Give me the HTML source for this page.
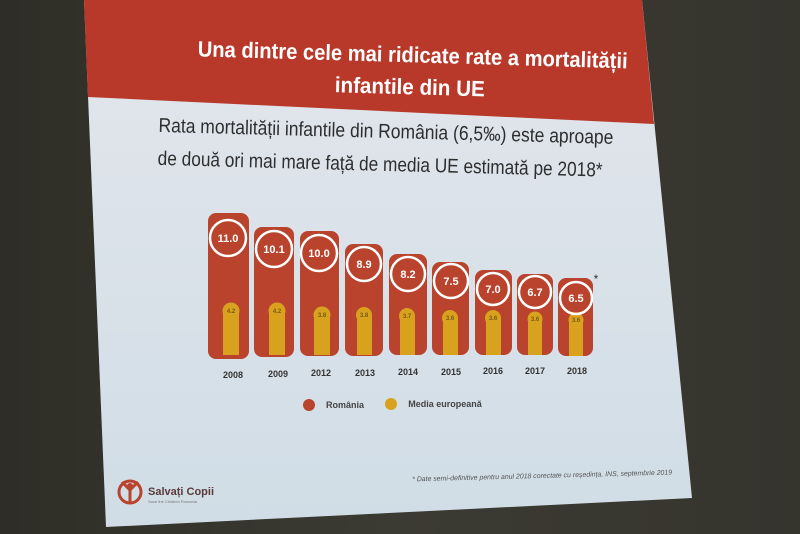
<!DOCTYPE html>
<html><head><meta charset="utf-8"><style>
html,body{margin:0;padding:0;width:800px;height:534px;overflow:hidden;background:#34342d}
svg{display:block}
text{font-family:"Liberation Sans",sans-serif}
</style></head><body>
<svg width="800" height="534" viewBox="0 0 800 534" xmlns="http://www.w3.org/2000/svg">
<defs>
<linearGradient id="bg" x1="0" y1="0" x2="1" y2="0">
<stop offset="0" stop-color="#2e2e27"/><stop offset="0.5" stop-color="#3c3b33"/><stop offset="1" stop-color="#35342d"/></linearGradient>
<linearGradient id="sl" x1="0" y1="0" x2="0" y2="1">
<stop offset="0" stop-color="#e4e6ec"/><stop offset="1" stop-color="#d0dde6"/></linearGradient>
</defs>
<rect width="800" height="534" fill="url(#bg)"/>
<polygon points="84,0 642,0 692,498 106,527" fill="url(#sl)"/>
<polygon points="84,0 642,0 654,124 88,97" fill="#b8382a"/>
<g transform="rotate(1.6 400 80)" fill="#fff" font-weight="bold" font-size="22" text-anchor="middle">
<text x="412" y="62" textLength="430" lengthAdjust="spacingAndGlyphs">Una dintre cele mai ridicate rate a mortalității</text>
<text x="410" y="94" textLength="150" lengthAdjust="spacingAndGlyphs">infantile din UE</text>
</g>
<g transform="rotate(1.5 390 150)" fill="#2e2e2e" font-size="20">
<text x="158" y="138" textLength="455" lengthAdjust="spacingAndGlyphs">Rata mortalității infantile din România (6,5‰) este aproape</text>
<text x="158" y="171" textLength="445" lengthAdjust="spacingAndGlyphs">de două ori mai mare față de media UE estimată pe 2018*</text>
</g>
<g font-weight="bold" text-anchor="middle">
<rect x="208" y="213" width="41" height="146" rx="8" fill="#b9432c"/>
<rect x="254" y="227" width="40" height="130" rx="8" fill="#b9432c"/>
<rect x="300" y="231" width="39" height="125" rx="8" fill="#b9432c"/>
<rect x="345" y="244" width="38" height="112" rx="8" fill="#b9432c"/>
<rect x="389" y="254" width="38" height="101" rx="8" fill="#b9432c"/>
<rect x="432" y="262" width="37" height="93" rx="8" fill="#b9432c"/>
<rect x="475" y="270" width="37" height="85" rx="8" fill="#b9432c"/>
<rect x="517" y="274" width="36" height="81" rx="8" fill="#b9432c"/>
<rect x="558" y="278" width="35" height="78" rx="8" fill="#b9432c"/>
<g fill="#d9a21e">
<rect x="223" y="311" width="16" height="44"/><circle cx="231" cy="311" r="8.5"/>
<rect x="269" y="311" width="16" height="44"/><circle cx="277" cy="311" r="8.5"/>
<rect x="314" y="315" width="16" height="40"/><circle cx="322" cy="315" r="8.5"/>
<rect x="357" y="315" width="15" height="40"/><circle cx="364" cy="315" r="8"/>
<rect x="400" y="316" width="15" height="39"/><circle cx="407" cy="316" r="8"/>
<rect x="443" y="318" width="15" height="37"/><circle cx="450" cy="318" r="8"/>
<rect x="486" y="318" width="15" height="37"/><circle cx="493" cy="318" r="8"/>
<rect x="528" y="319" width="14" height="36"/><circle cx="535" cy="319" r="7.5"/>
<rect x="569" y="320" width="14" height="36"/><circle cx="576" cy="320" r="7.5"/>
</g>
<g fill="none" stroke="#fff" stroke-width="2.5">
<circle cx="228" cy="238" r="18"/><circle cx="274" cy="249" r="18"/><circle cx="319" cy="253" r="18"/>
<circle cx="364" cy="264" r="17"/><circle cx="408" cy="274" r="17"/><circle cx="451" cy="281" r="17"/>
<circle cx="493" cy="289" r="16"/><circle cx="535" cy="292" r="16"/><circle cx="576" cy="298" r="16"/>
</g>
<g fill="#fff" font-size="11">
<text x="228" y="242">11.0</text><text x="274" y="253">10.1</text><text x="319" y="257">10.0</text>
<text x="364" y="268">8.9</text><text x="408" y="278">8.2</text><text x="451" y="285">7.5</text>
<text x="493" y="293">7.0</text><text x="535" y="296">6.7</text><text x="576" y="302">6.5</text>
</g>
<g fill="#7a5a10" font-size="6">
<text x="231" y="313">4.2</text><text x="277" y="313">4.2</text><text x="322" y="317">3.8</text>
<text x="364" y="317">3.8</text><text x="407" y="318">3.7</text><text x="450" y="320">3.6</text>
<text x="493" y="320">3.6</text><text x="535" y="321">3.6</text><text x="576" y="322">3.6</text>
</g>
<text x="596" y="283" font-size="12" fill="#333" font-weight="normal">*</text>
<g fill="#333" font-size="9">
<text x="233" y="378">2008</text><text x="278" y="377">2009</text><text x="321" y="376">2012</text>
<text x="365" y="376">2013</text><text x="408" y="375">2014</text><text x="451" y="375">2015</text>
<text x="493" y="374">2016</text><text x="535" y="374">2017</text><text x="577" y="374">2018</text>
</g>
<circle cx="309" cy="405" r="6" fill="#b9432c"/>
<text x="345" y="408" font-size="9" fill="#444">România</text>
<circle cx="391" cy="404" r="6" fill="#d9a21e"/>
<text x="445" y="407" font-size="9" fill="#444">Media europeană</text>
</g>
<text x="412" y="478" font-size="7" font-style="italic" fill="#555" transform="rotate(-1.5 540 472)" textLength="260" lengthAdjust="spacingAndGlyphs">* Date semi-definitive pentru anul 2018 corectate cu reședința, INS, septembrie 2019</text>
<circle cx="130" cy="492" r="11" fill="none" stroke="#b9432c" stroke-width="3"/>
<circle cx="130" cy="486" r="3" fill="#b9432c"/>
<path d="M122 482 L130 490 L138 482 M130 490 L130 502" stroke="#b9432c" stroke-width="3" fill="none"/>
<text x="148" y="495" font-size="11" fill="#5a3a3a" font-weight="bold">Salvați Copii</text>
<text x="148" y="503" font-size="4" fill="#777">Save the Children Romania</text>
</svg>
</body></html>
